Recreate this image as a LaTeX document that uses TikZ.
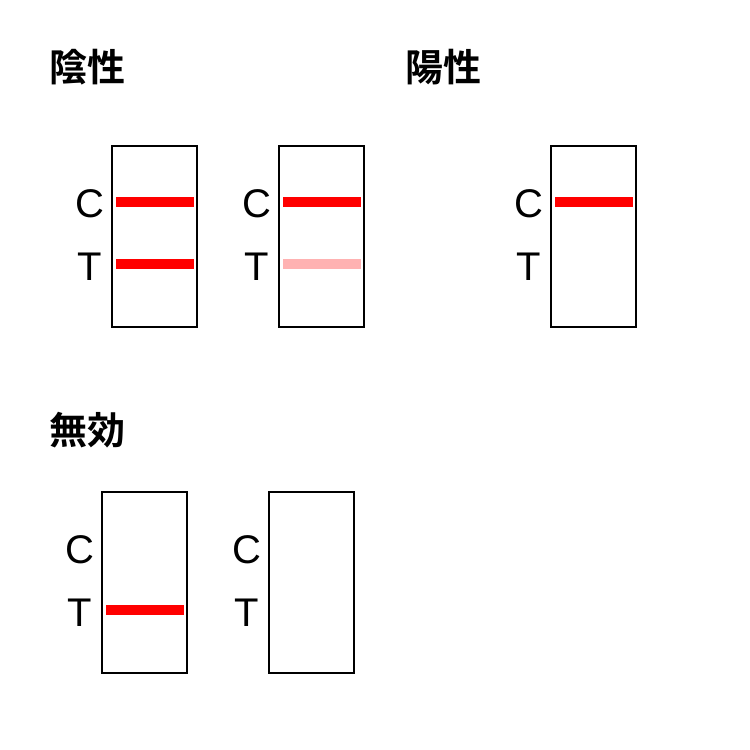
\documentclass[tikz,border=0pt]{standalone}
\usepackage{fontspec}
\setmainfont{Liberation Sans}
\newfontfamily\cjk{Noto Sans CJK JP}[BoldFont={* Bold}]
\begin{document}
\begin{tikzpicture}[x=1pt,y=-1pt,
  strip/.style={draw=black,line width=2.5pt},
  band/.style={draw=red,line width=10pt},
  pale/.style={draw=red!30,line width=10pt},
  lbl/.style={font=\fontsize{40}{40}\selectfont,inner sep=0pt},
  ttl/.style={font=\cjk\bfseries\fontsize{38}{38}\selectfont,inner sep=0pt,anchor=west}]
\useasboundingbox (0,0) rectangle (750,750);
\node[ttl] (t1) at (49,67) {陰性};
\node[ttl] (t2) at (405,67) {陽性};
\node[ttl] (t3) at (49,430) {無効};
\foreach \n/\x/\y in {a/112/146,b/279/146,c/551/146,d/102/492,e/269/492}{
  \draw[strip] (\x,\y) rectangle ++(85,181);
  \node[lbl] (\n C) at (\x-22,\y+58) {C};
  \node[lbl] (\n T) at (\x-22,\y+121) {T};
}
\draw[band] (116,202) -- (194,202);
\draw[band] (116,264) -- (194,264);
\draw[band] (283,202) -- (361,202);
\draw[pale] (283,264) -- (361,264);
\draw[band] (555,202) -- (633,202);
\draw[band] (106,610) -- (184,610);
\end{tikzpicture}
\end{document}
